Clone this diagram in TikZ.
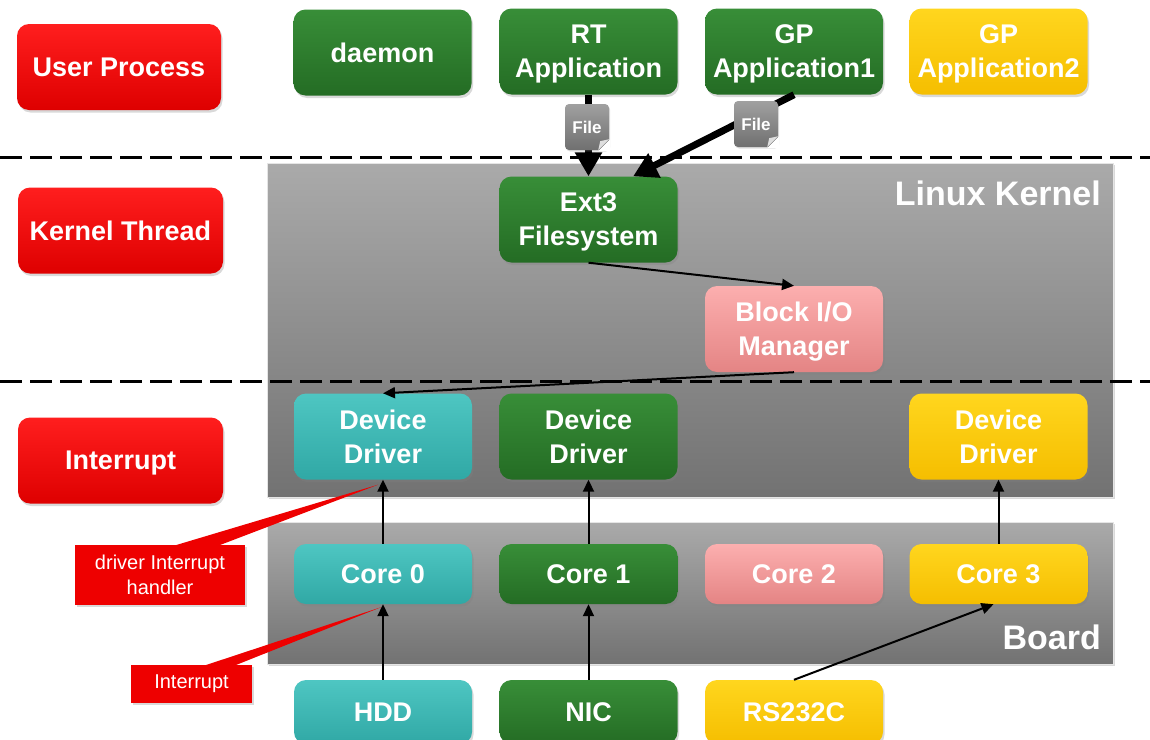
\documentclass[tikz,border=0pt]{standalone}
\usepackage{fontspec}
\setmainfont{Liberation Sans}
\usetikzlibrary{arrows.meta,shadows,calc}

\definecolor{redT}{RGB}{255,30,30}
\definecolor{redB}{RGB}{222,0,0}
\definecolor{grnT}{RGB}{56,142,56}
\definecolor{grnB}{RGB}{36,108,36}
\definecolor{tealT}{RGB}{78,198,194}
\definecolor{tealB}{RGB}{48,168,165}
\definecolor{yelT}{RGB}{255,214,30}
\definecolor{yelB}{RGB}{245,190,0}
\definecolor{pinkT}{RGB}{252,175,175}
\definecolor{pinkB}{RGB}{228,132,132}
\definecolor{panelT}{RGB}{170,170,170}
\definecolor{panelB}{RGB}{114,114,114}
\definecolor{fileT}{RGB}{160,160,160}
\definecolor{fileB}{RGB}{112,112,112}
\definecolor{calloutred}{RGB}{238,0,0}

\tikzset{
  box/.style={rounded corners=12pt, minimum width=178pt, minimum height=86pt,
    align=center, text=white, inner sep=0pt, text depth=0pt,
    font=\fontsize{27}{34}\selectfont\bfseries,
    drop shadow={opacity=0.3, shadow xshift=1.5pt, shadow yshift=-2.5pt}},
  redbox/.style={box, top color=redT, bottom color=redB},
  greenbox/.style={box, top color=grnT, bottom color=grnB},
  tealbox/.style={box, top color=tealT, bottom color=tealB},
  yellowbox/.style={box, top color=yelT, bottom color=yelB},
  pinkbox/.style={box, top color=pinkT, bottom color=pinkB},
  corebox/.style={minimum height=60pt},
  devbox/.style={minimum height=64pt},
  panel/.style={draw=white!80!gray, line width=1pt, top color=panelT, bottom color=panelB,
    drop shadow={opacity=0.3, shadow xshift=2pt, shadow yshift=-2pt}},
  panellabel/.style={text=white, font=\fontsize{34}{36}\selectfont\bfseries, anchor=east, inner sep=0pt},
  layerline/.style={line width=3pt, dash pattern=on 22pt off 8pt},
  thickarrow/.style={line width=7pt, -{Triangle[width=26pt,length=24pt]}},
  thinarrow/.style={line width=2pt, -{Triangle[width=11pt,length=12pt]}},
  fileicon/.style={rounded corners=4pt, minimum width=44pt, minimum height=46pt, inner sep=0pt,
    top color=fileT, bottom color=fileB, text=white, font=\fontsize{17}{18}\selectfont\bfseries,
    drop shadow={opacity=0.25, shadow xshift=1pt, shadow yshift=-1.5pt}},
  callout/.style={fill=calloutred, text=white, align=center, inner sep=0pt,
    font=\fontsize{20}{25}\selectfont,
    drop shadow={opacity=0.3, shadow xshift=1.5pt, shadow yshift=-2pt}},
}

\begin{document}
\begin{tikzpicture}[x=1pt, y=-1pt]
\useasboundingbox (0,0) rectangle (1150,739);
\clip (0,0) rectangle (1150,739);

% layer panels
\node[panel, minimum width=846pt, minimum height=334pt] (kernel) at (690,330) {};
\node[panel, minimum width=846pt, minimum height=142pt] (board) at (690,593) {};
\node[panellabel] (kernellabel) at (1101,193) {Linux Kernel};
\node[panellabel] (boardlabel) at (1101,637) {Board};

% layer boundaries
\draw[layerline] (0,157) -- (1150,157);
\draw[layerline] (0,381) -- (1150,381);

% layer names
\node[redbox, minimum width=204pt] (up) at (119,67) {User Process};
\node[redbox, minimum width=205pt] (kt) at (120.5,230.5) {Kernel Thread};
\node[redbox, minimum width=205pt] (ir) at (120.5,460.5) {Interrupt};

% user space
\node[greenbox] (daemon) at (382.5,52.5) {daemon};
\node[greenbox] (rt) at (588.5,51.5) {RT\\Application};
\node[greenbox] (gp1) at (794,51.5) {GP\\Application1};
\node[yellowbox] (gp2) at (998.5,51.5) {GP\\Application2};

% kernel
\node[greenbox] (ext) at (588.5,219.5) {Ext3\\Filesystem};
\node[pinkbox] (bio) at (794,329) {Block I/O\\Manager};
\node[tealbox] (dd0) at (383,436.5) {Device\\Driver};
\node[greenbox] (dd1) at (588.5,436.5) {Device\\Driver};
\node[yellowbox] (dd3) at (998.5,436.5) {Device\\Driver};

% cores
\node[tealbox, corebox] (core0) at (383,574) {Core 0};
\node[greenbox, corebox] (core1) at (588.5,574) {Core 1};
\node[pinkbox, corebox] (core2) at (794,574) {Core 2};
\node[yellowbox, corebox] (core3) at (998.5,574) {Core 3};

% devices
\node[tealbox, devbox] (hdd) at (383,712) {HDD};
\node[greenbox, devbox] (nic) at (588.5,712) {NIC};
\node[yellowbox, devbox] (rs) at (794,712) {RS232C};

% file accesses
\coordinate (extin) at ($(ext.north)!0.5!(ext.north east)$);
\draw[thickarrow] (rt.south) -- (ext.north);
\draw[thickarrow] (gp1.south) -- (extin);
\node[fileicon] (f1) at (587,127) {File};
\node[fileicon] (f2) at (756,124) {File};
\foreach \f in {f1,f2}{
  \fill[white] ($(\f.south east)+(-11,1)$) -- ($(\f.south east)+(1,1)$) -- ($(\f.south east)+(1,-11)$) -- cycle;
  \fill[white!75!gray] ($(\f.south east)+(-11,0)$) -- ($(\f.south east)+(-9,-9)$) -- ($(\f.south east)+(0,-11)$) -- cycle;
}

% kernel path
\draw[thinarrow] (ext.south) -- (bio.north);
\draw[thinarrow] (bio.south) -- (dd0.north);

% interrupt paths
\draw[thinarrow] (core0.north) -- (dd0.south);
\draw[thinarrow] (core1.north) -- (dd1.south);
\draw[thinarrow] (core3.north) -- (dd3.south);
\draw[thinarrow] (hdd.north) -- (core0.south);
\draw[thinarrow] (nic.north) -- (core1.south);
\coordinate (core3in) at ($(core3.south)+(-5,0)$);
\draw[thinarrow] (rs.north) -- (core3in);

% callouts
\node[callout, minimum width=170pt, minimum height=60pt] (cb1) at (160,575) {driver Interrupt\\handler};
\node[callout, minimum width=121pt, minimum height=38pt] (cb2) at (191.5,684) {Interrupt};
\coordinate (tip1) at ($(dd0.south)+(-5,5)$);
\coordinate (tip2) at ($(core0.south)+(-2,3)$);
\fill[calloutred] ($(cb1.north west)!0.58!(cb1.north east)+(0,1)$) -- (tip1) -- ($(cb1.north west)!0.84!(cb1.north east)+(0,1)$) -- cycle;
\fill[calloutred] ($(cb2.north west)!0.60!(cb2.north east)+(0,1)$) -- (tip2) -- ($(cb2.north west)!0.85!(cb2.north east)+(0,1)$) -- cycle;
\end{tikzpicture}
\end{document}
